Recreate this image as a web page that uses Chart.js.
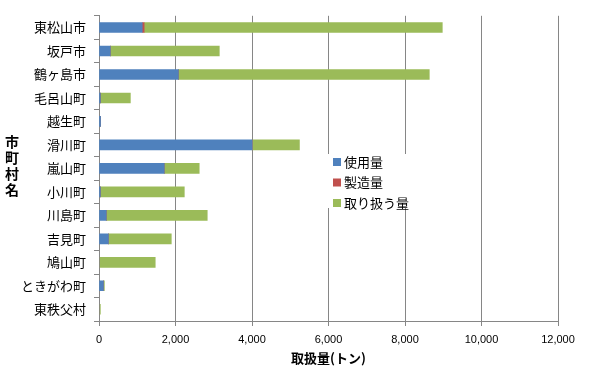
<!DOCTYPE html>
<html>
<head>
<meta charset="utf-8">
<script src="https://cdn.jsdelivr.net/npm/chart.js@4"></script>
<style>
  html, body { margin: 0; padding: 0; background: #fff; }
  #wrap { width: 615px; height: 374px; position: relative; }
</style>
</head>
<body>
<div id="wrap"><canvas id="chart" width="615" height="374"></canvas></div>
<script>
const towns = ["東松山市", "坂戸市", "鶴ヶ島市", "毛呂山町", "越生町", "滑川町", "嵐山町",
  "小川町", "川島町", "吉見町", "鳩山町", "ときがわ町", "東秩父村"];
const used = [1130, 295, 2075, 35, 40, 4005, 1705, 35, 190, 245, 0, 115, 0];
const made = [50, 0, 0, 0, 0, 0, 0, 0, 0, 0, 0, 0, 0];
const handled = [7795, 2850, 6560, 785, 0, 1235, 915, 2195, 2640, 1645, 1470, 25, 35];
const xTicks = [0, 2000, 4000, 6000, 8000, 10000, 12000];

const JP = "'Noto Sans CJK JP', 'Noto Sans', sans-serif";

// legend drawn in a white box inside the plot, like the original
const boxLegend = {
  id: "boxLegend",
  afterDraw(chart) {
    const ctx = chart.ctx;
    ctx.save();
    ctx.fillStyle = "#fff";
    ctx.fillRect(327, 154, 80, 54);
    ctx.font = "13px " + JP;
    ctx.textBaseline = "middle";
    chart.data.datasets.forEach((ds, i) => {
      const y = 162 + i * 20.5;
      ctx.fillStyle = ds.backgroundColor;
      ctx.fillRect(333, y - 4, 8, 8);
      ctx.fillStyle = "#000";
      ctx.fillText(ds.label, 344, y);
    });
    ctx.restore();
  }
};

// vertical (stacked) y axis title
const yTitle = {
  id: "yTitle",
  afterDraw(chart) {
    const ctx = chart.ctx;
    ctx.save();
    ctx.font = "bold 14px " + JP;
    ctx.fillStyle = "#000";
    ctx.textAlign = "center";
    ctx.textBaseline = "middle";
    "市町村名".split("").forEach((c, i) => ctx.fillText(c, 12, 142 + i * 16));
    ctx.restore();
  }
};

new Chart(document.getElementById("chart"), {
  type: "bar",
  data: {
    labels: towns,
    datasets: [
      { label: "使用量", data: used, backgroundColor: "#4F81BD" },
      { label: "製造量", data: made, backgroundColor: "#C0504D" },
      { label: "取り扱う量", data: handled, backgroundColor: "#9BBB59" }
    ]
  },
  options: {
    indexAxis: "y",
    responsive: false,
    animation: false,
    layout: { padding: { left: 0, right: 57, top: 4, bottom: 8 } },
    datasets: { bar: { barThickness: 10 } },
    plugins: {
      legend: { display: false },
      tooltip: { enabled: false }
    },
    scales: {
      x: {
        stacked: true,
        min: 0,
        max: 12000,
        afterBuildTicks: s => { s.ticks = xTicks.map(v => ({ value: v })); },
        afterFit: s => { s.height = 45; },
        grid: { color: "#868686", lineWidth: 1, tickLength: 5 },
        border: { color: "#868686" },
        ticks: {
          color: "#000",
          font: { size: 11, family: "Arial, 'Liberation Sans', sans-serif" },
          padding: 7,
          callback: v => v.toLocaleString("en-US")
        },
        title: {
          display: true,
          text: "取扱量(トン)",
          color: "#000",
          font: { size: 13, weight: "bold", family: JP },
          padding: { top: 2, bottom: 0 }
        }
      },
      y: {
        stacked: true,
        afterFit: s => { s.width = 99; },
        grid: { offset: true, drawOnChartArea: false, color: "#868686", tickLength: 5 },
        border: { color: "#868686" },
        ticks: {
          color: "#000",
          font: { size: 13, family: JP },
          padding: 8
        }
      }
    }
  },
  plugins: [boxLegend, yTitle]
});
</script>
</body>
</html>
